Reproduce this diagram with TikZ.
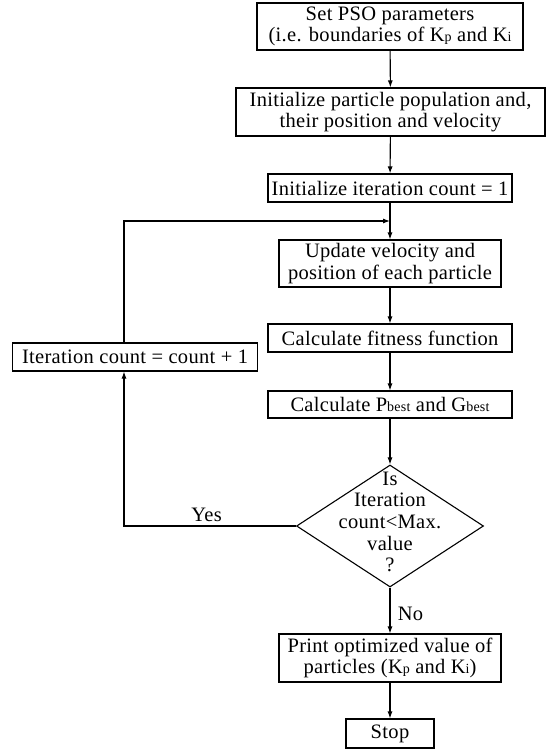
\documentclass[tikz,border=0pt]{standalone}
\usepackage{fontspec}
\setmainfont{Liberation Serif}[LetterSpace=1.5]
\usepackage{tikz}
\usetikzlibrary{arrows.meta,positioning,shapes.geometric}
\newcommand{\lowtxt}[1]{{\fontsize{14}{14}\selectfont #1}}

\begin{document}
\begin{tikzpicture}[x=1pt, y=-1pt,
    font=\fontsize{20.5}{21.7}\selectfont,
    box/.style={draw, line width=1.1pt, align=center, inner sep=0pt, minimum height=28pt},
    decision/.style={draw, diamond, line width=1.1pt, inner sep=0pt,
                     minimum width=187pt, minimum height=122pt},
    flow/.style={-{Latex[length=7pt,width=5pt]}, line width=1.1pt}]
  \useasboundingbox (0,0) rectangle (551,751);
  % Main column
  \node[box, minimum width=266pt, minimum height=47pt] (params) at (390,26.5)
       {Set PSO parameters\\(i.e. boundaries of K\lowtxt{p} and K\lowtxt{i}};
  \node[box, minimum width=309pt, minimum height=48pt] (popul) at (390.5,112)
       {Initialize particle population and,\\their position and velocity};
  \node[box, minimum width=244pt] (itone) at (390,188) {Initialize iteration count = 1};
  \node[box, minimum width=222pt, minimum height=47pt] (update) at (390,263.5)
       {Update velocity and\\position of each particle};
  \node[box, minimum width=244pt] (fitness) at (390,338) {Calculate fitness function};
  \node[box, minimum width=244pt, minimum height=27pt] (best) at (390,404.5)
       {Calculate P\lowtxt{best} and G\lowtxt{best}};
  % Decision
  \node[decision] (check) at (390,526) {};
  \node[align=center, inner sep=0pt] (checktxt) at (390,522)
       {Is\\Iteration\\count<Max.\\value\\?};
  % End
  \node[box, minimum width=222pt, minimum height=48pt] (print) at (390,658)
       {Print optimized value of\\particles (K\lowtxt{p} and K\lowtxt{i})};
  \node[box, minimum width=88pt, minimum height=29pt] (stop) at (390,733.5) {Stop};
  % Loop back
  \node[box, minimum width=245pt] (count) at (135,357) {Iteration count = count + 1};
  \coordinate (loopx) at (124,0);
  \coordinate (join) at (390,221);
  % Arrows
  \draw[flow] (params) -- (popul);
  \draw[flow] (popul) -- (itone);
  \draw[flow] (itone) -- (update);
  \draw[flow] (update) -- (fitness);
  \draw[flow] (fitness) -- (best);
  \draw[flow] (best) -- (check);
  \draw[flow] (check) -- node[right=4pt, pos=0.57] {No} (print);
  \draw[flow] (print) -- (stop);
  \draw[flow] (check.west) -- node[above, pos=0.52] {Yes} (check.west -| loopx)
       -- (count.south -| loopx);
  \draw[flow] (count.north -| loopx) |- (join);
\end{tikzpicture}
\end{document}
